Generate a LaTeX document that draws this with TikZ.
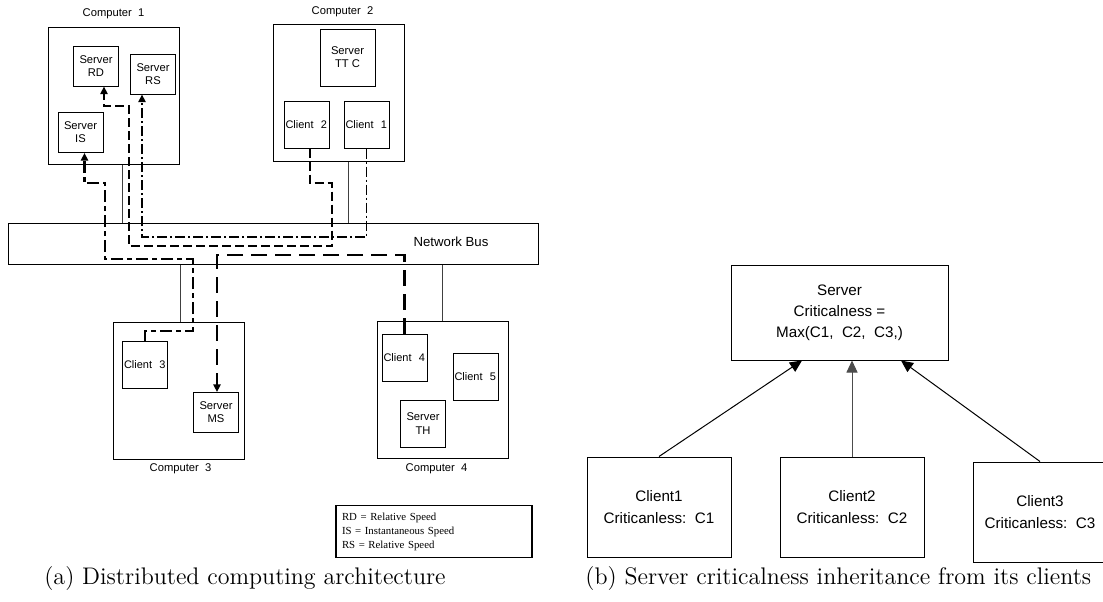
\documentclass[tikz,border=0pt]{standalone}
\usepackage{fontspec}
\newfontfamily\arialfont{Liberation Sans}
\newfontfamily\legendfont{Liberation Serif}
\usepackage{tikz}
\usetikzlibrary{arrows.meta,positioning}

\tikzset{
  lbl/.style={font=\arialfont\fontsize{5.6}{6.5}\selectfont, inner sep=0pt},
  computer/.style={draw, line width=0.5pt, minimum width=65.5pt, minimum height=68.5pt, inner sep=0pt},
  server/.style={draw, line width=0.5pt, minimum width=22.5pt, minimum height=20pt, inner sep=0.5pt,
    align=center, font=\arialfont\fontsize{5.6}{6.6}\selectfont},
  client/.style={draw, line width=0.5pt, text width=21pt, inner xsep=0.75pt, inner ysep=0pt,
    minimum height=23.5pt, align=left, font=\arialfont\fontsize{5.5}{6.5}\selectfont},
  wire/.style={black!75, line width=0.5pt},
  tip/.style={-{Triangle[length=3.8pt,width=3.6pt]}},
  flowA/.style={tip, line width=1.2pt, dash pattern=on 6pt off 2pt on 2.5pt off 2pt},
  flowB/.style={tip, line width=1.2pt, dash pattern=on 4.5pt off 2pt},
  flowC/.style={tip, line width=0.9pt, dash pattern=on 5pt off 1.5pt on 1pt off 1.5pt},
  flowD/.style={tip, line width=1.2pt, dash pattern=on 8pt off 4pt},
  bigbox/.style={draw, line width=0.5pt, align=center, inner sep=0pt,
    font=\arialfont\fontsize{7.6}{10.5}\selectfont},
  cbox/.style={bigbox, minimum width=72pt, minimum height=50pt, font=\arialfont\fontsize{7.6}{11}\selectfont},
  inherit/.style={line width=0.5pt, -{Triangle[length=6pt,width=5.5pt]}},
  captext/.style={font=\fontsize{12}{14}\selectfont, inner sep=0pt}
}

\begin{document}
\begin{tikzpicture}[x=0.5pt,y=-0.5pt]
\useasboundingbox (0,0) rectangle (1103,601);

% (a) the four computers on the bus
\node[computer] (pc1) at (113.5,95.5) {};
\node[computer] (pc2) at (338.5,93) {};
\node[computer] (pc3) at (178.5,390.5) {};
\node[computer] (pc4) at (442.5,390) {};
\node[lbl, above=3.5pt of pc1] (pc1lbl) {Computer~~1};
\node[lbl, above=3.5pt of pc2, xshift=2pt] (pc2lbl) {Computer~~2};
\node[lbl, below=2pt of pc3, xshift=1pt] (pc3lbl) {Computer~~3};
\node[lbl, below=2pt of pc4, xshift=-3pt] (pc4lbl) {Computer~~4};

\node[draw, line width=0.5pt, minimum width=265pt, minimum height=20.5pt] (bus) at (273,243.5) {};
\node[lbl, font=\arialfont\fontsize{6.6}{8}\selectfont] (buslbl) at (451,242) {Network Bus};

\draw[wire] ([xshift=4.25pt]pc1.south) -- ([xshift=4.25pt]pc1.south |- bus.north);
\draw[wire] ([xshift=4.75pt]pc2.south) -- ([xshift=4.75pt]pc2.south |- bus.north);
\draw[wire] ([xshift=0.75pt]pc3.north) -- ([xshift=0.75pt]pc3.north |- bus.south);
\draw[wire] (pc4.north) -- (pc4.north |- bus.south);

% processes
\node[server] (srd) at (96,66) {Server\\RD};
\node[server] (srs) at (153,74) {Server\\RS};
\node[server] (sis) at (80.5,132.5) {Server\\IS};
\node[server, minimum width=27.5pt, minimum height=28.5pt] (stt) at (347.5,57.5) {Server\\TT C};
\node[client] (cl2) at (306.5,124.5) {Client~~2};
\node[client] (cl1) at (366.5,124.5) {Client~~1};
\node[client] (cl3) at (145,365) {Client~~3};
\node[server] (sms) at (216,412.5) {Server\\MS};
\node[client] (cl4) at (404.5,357.5) {Client~~4};
\node[client] (cl5) at (475.5,376.5) {Client~~5};
\node[server, minimum height=23.5pt] (sth) at (423,423.5) {Server\\TH};

% client -> server flows
\draw[flowA] (cl3.north) |- (193,331) |- (105,259) -- (105,183) -| ([xshift=2pt]sis.south);
\draw[flowB] ([xshift=1.75pt]cl2.south) |- (332,183) |- (129,246) |- (104,106) -- ([xshift=4pt]srd.south);
\draw[flowC] (cl1.south) |- (142,237) -- ([xshift=-5.5pt]srs.south);
\draw[flowD] (cl4.north) |- (217,255) -- ([xshift=0.5pt]sms.north);

\node[draw, line width=0.6pt, text width=92pt, inner xsep=3pt, minimum height=26pt, align=left,
  font=\legendfont\fontsize{5.4}{7}\selectfont] (legend) at (434,531.5)
  {RD = Relative Speed\\IS = Instantaneous Speed\\RS = Relative Speed};

\node[captext] (capa) at (245,578) {(a) Distributed computing architecture};

% (b) criticalness inheritance
\node[bigbox, minimum width=108.5pt, minimum height=47.5pt] (srv) at (839.5,312.5)
  {Server\\Criticalness =\\Max(C1,~~C2,~~C3,)};
\node[cbox] (c1) at (659,507) {Client1\\Criticanless:~~C1};
\node[cbox] (c2) at (852,507) {Client2\\Criticanless:~~C2};
\node[cbox, minimum width=67pt] (c3) at (1040,512) {Client3\\Criticanless:~~C3};

\draw[inherit] (c1.north) -- ([xshift=-18.75pt]srv.south);
\draw[inherit, black!70] (c2.north) -- ([xshift=6.25pt]srv.south);
\draw[inherit] (c3.north) -- ([xshift=30.75pt]srv.south);

\node[captext, anchor=west] (capb) at (585,578) {(b) Server criticalness inheritance from its clients};
\end{tikzpicture}
\end{document}
